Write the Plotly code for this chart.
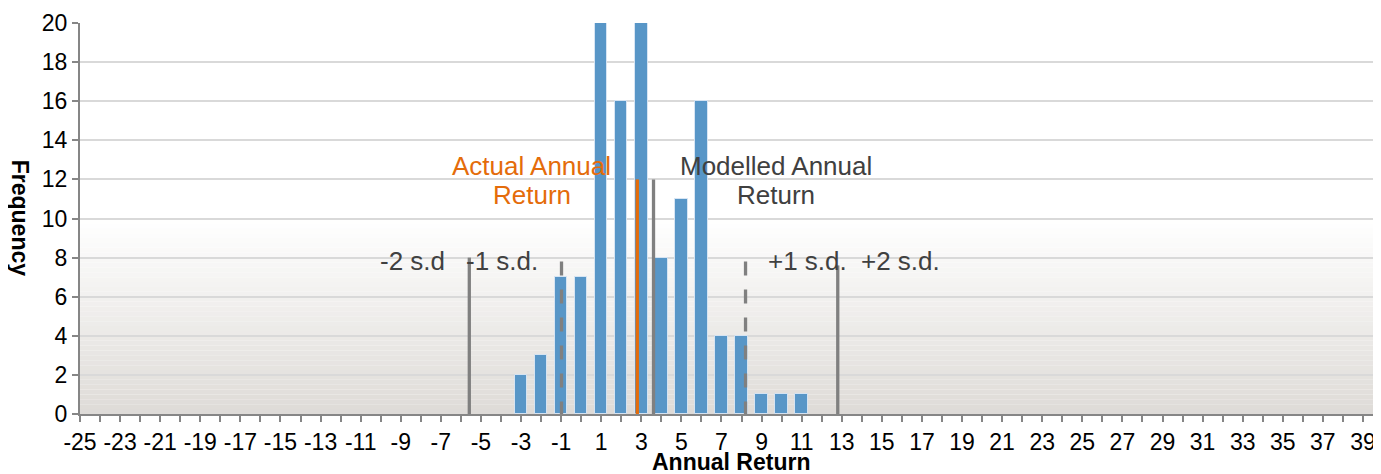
import plotly.graph_objects as go

# ---- data ----
returns = list(range(-3, 12))
frequency = [2, 3, 7, 7, 20, 16, 20, 8, 11, 16, 4, 4, 1, 1, 1]

x_tick_values = list(range(-25, 40, 2))
y_tick_values = list(range(0, 21, 2))

sd_labels = ["-2 s.d", "-1 s.d.", "+1 s.d.", "+2 s.d."]
sd_x = [-5.58, -0.98, 8.2, 12.8]
sd_top = [8, 7.8, 7.8, 7.6]
sd_dash = ["solid", "14px,14px", "14px,14px", "solid"]

actual_return = 2.8
modelled_return = 3.61
return_line_top = 12

FONT = "Liberation Sans, Arial, sans-serif"
GRAY = "#808080"
ORANGE = "#E46C0A"
TEXT_GRAY = "#404040"

fig = go.Figure()

fig.add_trace(go.Bar(
    x=returns, y=frequency, width=0.62,
    marker=dict(color="#5896C7", line=dict(color="rgba(220,232,245,0.9)", width=1)),
    showlegend=False, hoverinfo="x+y",
))

# s.d. lines (drawn top -> bottom so dash phase starts at the top)
for xv, top, dash in zip(sd_x, sd_top, sd_dash):
    fig.add_trace(go.Scatter(
        x=[xv, xv], y=[top, 0], mode="lines",
        line=dict(color=GRAY, width=3.3, dash=dash),
        showlegend=False, hoverinfo="skip",
    ))

fig.add_trace(go.Scatter(
    x=[actual_return, actual_return], y=[return_line_top, 0], mode="lines",
    line=dict(color=ORANGE, width=3.3), showlegend=False, hoverinfo="skip",
))
fig.add_trace(go.Scatter(
    x=[modelled_return, modelled_return], y=[return_line_top, 0], mode="lines",
    line=dict(color=GRAY, width=3.3), showlegend=False, hoverinfo="skip",
))

# background gradient in lower half of plot area (styling only)
n_bands = 40
top_c = (255, 255, 255)
bot_c = (222, 219, 215)
for i in range(n_bands):
    y0 = 10 * i / n_bands
    y1 = 10 * (i + 1) / n_bands
    t = 1 - (i + 0.5) / n_bands
    c = tuple(round(top_c[k] + (bot_c[k] - top_c[k]) * t) for k in range(3))
    fig.add_shape(type="rect", xref="x domain", yref="y", x0=0, x1=1, y0=y0, y1=y1,
                  fillcolor="rgb(%d,%d,%d)" % c, line=dict(width=0), layer="below")

# labels
sd_label_x = [-8.39, -3.95, 11.31, 15.95]
for txt, xv in zip(sd_labels, sd_label_x):
    fig.add_annotation(x=xv, y=7.85, text=txt, showarrow=False,
                       font=dict(family=FONT, size=26, color=TEXT_GRAY),
                       xanchor="center", yanchor="middle")

for txt, yv in [("Actual Annual", 12.7), ("Return", 11.2)]:
    fig.add_annotation(x=-2.46, y=yv, text=txt, showarrow=False,
                       font=dict(family=FONT, size=26, color=ORANGE),
                       xanchor="center", yanchor="middle")
for txt, yv in [("Modelled Annual", 12.7), ("Return", 11.2)]:
    fig.add_annotation(x=9.71, y=yv, text=txt, showarrow=False,
                       font=dict(family=FONT, size=26, color=TEXT_GRAY),
                       xanchor="center", yanchor="middle")

# axis titles
fig.add_annotation(xref="paper", yref="paper", x=0.5, y=-0.122, text="<b>Annual Return</b>",
                   showarrow=False, font=dict(family=FONT, size=23, color="#000000"),
                   xanchor="center", yanchor="middle")
fig.add_annotation(xref="paper", yref="paper", x=-0.0455, y=0.5, text="<b>Frequency</b>",
                   showarrow=False, textangle=90, font=dict(family=FONT, size=23, color="#000000"),
                   xanchor="center", yanchor="middle")

# page has an 8px body margin: figure is sized/offset to compensate
fig.update_layout(
    width=1373, height=466,
    margin=dict(l=72, r=0, t=15, b=60, autoexpand=False),
    paper_bgcolor="white", plot_bgcolor="white",
    font=dict(family=FONT, size=22, color="#000000"),
    bargap=0,
)
fig.update_xaxes(
    automargin=False,
    range=[-25, 39.9], tickmode="array", tickvals=x_tick_values,
    ticktext=[str(v) for v in x_tick_values],
    ticks="outside", ticklen=6, tickwidth=1.5, tickcolor="#868686",
    minor=dict(dtick=1, tick0=-25, ticks="outside", ticklen=6, tickwidth=1.5, tickcolor="#868686", showgrid=False),
    showline=True, linecolor="#868686", linewidth=2,
    showgrid=False, zeroline=False,
    tickfont=dict(family=FONT, size=23, color="#000000"),
)
fig.update_yaxes(
    automargin=False,
    range=[0, 20], tickmode="array", tickvals=y_tick_values,
    ticks="outside", ticklen=6, tickwidth=1.5, tickcolor="#868686",
    showline=True, linecolor="#868686", linewidth=2,
    showgrid=True, gridcolor="#D9D9D9", gridwidth=1.5, zeroline=False,
    tickfont=dict(family=FONT, size=23, color="#000000"),
)

fig.write_html("out.html")
